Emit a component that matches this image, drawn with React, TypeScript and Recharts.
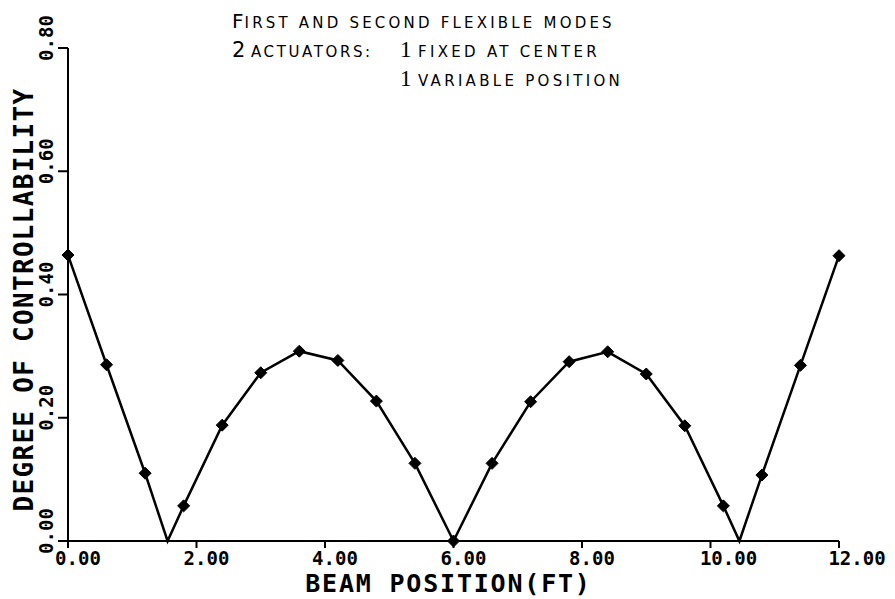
import React from 'react';
import {
  LineChart,
  Line,
  XAxis,
  YAxis,
  Label,
  Customized,
} from 'recharts';

// beam position (ft) and degree of controllability
const beamPos = [0, 0.6, 1.2, 1.55, 1.8, 2.4, 3.0, 3.6, 4.2, 4.8, 5.4, 6.0, 6.6, 7.2, 7.8, 8.4, 9.0, 9.6, 10.2, 10.45, 10.8, 11.4, 12.0];
const controllability = [0.464, 0.286, 0.11, 0, 0.057, 0.188, 0.273, 0.308, 0.293, 0.227, 0.126, 0, 0.126, 0.226, 0.291, 0.307, 0.271, 0.187, 0.057, 0, 0.107, 0.285, 0.463];
// the two interior zero crossings are drawn as line vertices without a symbol
const hasMarker = [true, true, true, false, true, true, true, true, true, true, true, true, true, true, true, true, true, true, true, false, true, true, true];

const xTicks = [0, 2, 4, 6, 8, 10, 12];
const yTicks = [0, 0.2, 0.4, 0.6, 0.8];

const data = beamPos.map((x, i) => ({ x, y: controllability[i], marker: hasMarker[i] }));

const MONO = '"DejaVu Sans Mono", monospace';
const SANS = '"DejaVu Sans", sans-serif';
const SERIF = '"Liberation Serif", serif';

const Diamond = (props: any) => {
  const { cx, cy, payload } = props;
  if (!payload || !payload.marker || cx == null || cy == null) return null;
  const r = 6;
  return (
    <path
      d={`M${cx},${cy - r} L${cx + r},${cy} L${cx},${cy + r} L${cx - r},${cy} Z`}
      fill="#000"
      stroke="#000"
      strokeWidth={1}
    />
  );
};

const XTick = ({ x, payload }: any) => {
  const txt = payload.value.toFixed(2);
  const dx = txt.length > 4 ? 18 : 10;
  return (
    <text x={x + dx} y={565} textAnchor="middle" fontFamily={MONO} fontWeight="bold" fontSize={19} fill="#000">
      {txt}
    </text>
  );
};

const YTick = ({ y, payload }: any) => {
  const txt = payload.value.toFixed(2);
  return (
    <text
      x={53}
      y={y - 10}
      transform={`rotate(-90, 53, ${y - 10})`}
      textAnchor="middle"
      fontFamily={MONO}
      fontWeight="bold"
      fontSize={19}
      fill="#000"
    >
      {txt}
    </text>
  );
};

// small-caps style annotation at the top
const Notes = () => (
  <g fill="#000" fontFamily={SANS}>
    <text x={232} y={28} fontSize={15} letterSpacing={3.2}>
      <tspan fontSize={20} letterSpacing={1}>F</tspan>IRST AND SECOND FLEXIBLE MODES
    </text>
    <text y={57} fontSize={15} letterSpacing={2.6}>
      <tspan x={232} fontSize={21}>2</tspan>
      <tspan x={251}>ACTUATORS:</tspan>
    </text>
    <text y={57} fontSize={15} letterSpacing={3.3}>
      <tspan x={400} fontSize={23} fontFamily={SERIF}>1</tspan>
      <tspan x={418}>FIXED AT CENTER</tspan>
    </text>
    <text y={86} fontSize={15} letterSpacing={3.3}>
      <tspan x={400} fontSize={23} fontFamily={SERIF}>1</tspan>
      <tspan x={418}>VARIABLE POSITION</tspan>
    </text>
  </g>
);

export default function App() {
  return (
    <div style={{ position: 'absolute', left: 0, top: 0, width: 895, height: 599, background: '#fff' }}>
      <LineChart width={895} height={599} data={data} margin={{ top: 48, right: 56, left: 0, bottom: 0 }}>
        <XAxis
          dataKey="x"
          type="number"
          domain={[0, 12]}
          ticks={xTicks}
          height={58}
          stroke="#000"
          strokeWidth={2}
          tickSize={7}
          tick={<XTick />}
          interval={0}
        >
          <Label
            content={({ viewBox }: any) => (
              <text
                x={viewBox.x + viewBox.width / 2 - 5}
                y={viewBox.y + 51}
                textAnchor="middle"
                fontFamily={MONO}
                fontWeight="bold"
                fontSize={25}
                letterSpacing={1.8}
                fill="#000"
              >
                BEAM POSITION(FT)
              </text>
            )}
          />
        </XAxis>
        <YAxis
          type="number"
          domain={[0, 0.8]}
          ticks={yTicks}
          width={68}
          stroke="#000"
          strokeWidth={2}
          tickSize={10}
          tick={<YTick />}
          interval={0}
        >
          <Label
            content={({ viewBox }: any) => {
              const cy = viewBox.y + viewBox.height / 2 + 5;
              return (
                <text
                  x={33}
                  y={cy}
                  transform={`rotate(-90, 33, ${cy})`}
                  textAnchor="middle"
                  fontFamily={MONO}
                  fontWeight="bold"
                  fontSize={26}
                  letterSpacing={1.3}
                  fill="#000"
                >
                  DEGREE OF CONTROLLABILITY
                </text>
              );
            }}
          />
        </YAxis>
        <Line
          type="linear"
          dataKey="y"
          stroke="#000"
          strokeWidth={2.5}
          dot={<Diamond />}
          activeDot={false}
          isAnimationActive={false}
        />
        <Customized component={Notes} />
      </LineChart>
    </div>
  );
}
